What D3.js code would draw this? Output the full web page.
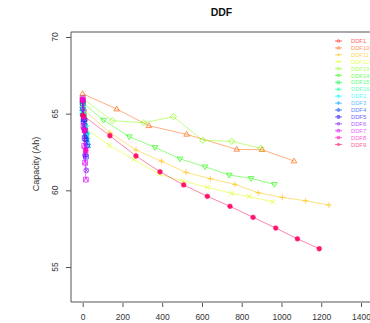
<!DOCTYPE html>
<html>
<head>
<meta charset="utf-8">
<script src="https://cdn.jsdelivr.net/npm/d3@7"></script>
<style>
  html, body { margin: 0; padding: 0; background: #fff; }
  svg { display: block; font-family: "Liberation Sans", Arial, sans-serif; }
</style>
</head>
<body>
<svg id="chart" width="370" height="323"></svg>
<script>
// Series in legend order
const seriesNames = ["DDF1","DDF10","DDF11","DDF12","DDF13","DDF14","DDF15","DDF16",
                     "DDF2","DDF3","DDF4","DDF5","DDF6","DDF7","DDF8","DDF9"];

// Cycle counts and capacity (Ah) per cell
const cyclesDDF1 = [0, 6, 12];
const capacityDDF1 = [65.8, 65.2, 64.6];
const cyclesDDF10 = [0, 171, 333, 523, 775, 902, 1063];
const capacityDDF10 = [66.3, 65.3, 64.21, 63.65, 62.67, 62.65, 61.91];
const cyclesDDF11 = [0, 137, 268, 396, 520, 642, 766, 883, 1004, 1120, 1239];
const capacityDDF11 = [65.3, 63.76, 62.63, 61.9, 61.17, 60.76, 60.39, 59.84, 59.54, 59.32, 59.04];
const cyclesDDF12 = [0, 134, 258, 384, 506, 627, 749, 838, 956];
const capacityDDF12 = [64.2, 62.93, 62.02, 61.06, 60.6, 60.2, 59.8, 59.6, 59.24];
const cyclesDDF13 = [0, 149, 308, 456, 604, 749, 897];
const capacityDDF13 = [66.0, 64.54, 64.41, 64.8, 63.26, 63.2, 62.74];
const cyclesDDF14 = [0, 105, 234, 364, 489, 615, 737, 847, 964];
const capacityDDF14 = [65.7, 64.58, 63.5, 62.8, 62.06, 61.54, 61.0, 60.78, 60.39];
const cyclesDDF15 = [0, 6, 12, 18];
const capacityDDF15 = [65.6, 64.9, 64.2, 63.6];
const cyclesDDF16 = [0, 6, 12, 18, 24];
const capacityDDF16 = [65.2, 64.7, 64.2, 63.8, 63.3];
const cyclesDDF2 = [0, 7, 14, 21];
const capacityDDF2 = [65.0, 64.6, 64.2, 63.7];
const cyclesDDF3 = [0, 8, 16, 24];
const capacityDDF3 = [64.9, 64.3, 63.6, 63.0];
const cyclesDDF4 = [0, 6, 12, 18, 24];
const capacityDDF4 = [65.3, 64.6, 63.9, 63.3, 62.9];
const cyclesDDF5 = [0, 5, 10, 16];
const capacityDDF5 = [65.7, 64.5, 63.4, 62.2];
const cyclesDDF6 = [0, 6, 12, 18];
const capacityDDF6 = [65.9, 64.0, 62.3, 61.3];
const cyclesDDF7 = [0, 4, 8, 12, 16];
const capacityDDF7 = [66.0, 64.2, 62.9, 61.8, 60.7];
const cyclesDDF8 = [0, 5, 10, 15];
const capacityDDF8 = [65.9, 64.8, 63.9, 62.6];
const cyclesDDF9 = [0, 137, 268, 389, 508, 627, 741, 857, 971, 1080, 1190];
const capacityDDF9 = [64.9, 63.56, 62.24, 61.21, 60.35, 59.61, 58.96, 58.24, 57.54, 56.84, 56.19];

const xTicks = [0, 200, 400, 600, 800, 1000, 1200, 1400];
const yTicks = [55, 60, 65, 70];

const cycleData = [cyclesDDF1, cyclesDDF10, cyclesDDF11, cyclesDDF12, cyclesDDF13, cyclesDDF14,
  cyclesDDF15, cyclesDDF16, cyclesDDF2, cyclesDDF3, cyclesDDF4, cyclesDDF5, cyclesDDF6,
  cyclesDDF7, cyclesDDF8, cyclesDDF9];
const capacityData = [capacityDDF1, capacityDDF10, capacityDDF11, capacityDDF12, capacityDDF13,
  capacityDDF14, capacityDDF15, capacityDDF16, capacityDDF2, capacityDDF3, capacityDDF4,
  capacityDDF5, capacityDDF6, capacityDDF7, capacityDDF8, capacityDDF9];

// rainbow palette, one hue per series
const n = seriesNames.length;
const colors = seriesNames.map((_, i) => d3.hsl(360 * i / n, 1, 0.5).formatHex());

const series = seriesNames.map((name, i) => ({
  name, color: colors[i], pch: i + 1,
  points: cycleData[i].map((c, j) => ({ x: c, y: capacityData[i][j] }))
}));

const svg = d3.select("#chart");
const plot = { left: 71, top: 32, bottom: 302, right: 372 };

const x = d3.scaleLinear().domain([0, 1400]).range([82.7, 361]);
const y = d3.scaleLinear().domain([55, 70]).range([267, 37]);

// frame
svg.append("path")
  .attr("d", `M${plot.right},${plot.top}H${plot.left}V${plot.bottom}H${plot.right}`)
  .attr("fill", "none").attr("stroke", "#555").attr("stroke-width", 1);

// title
svg.append("text").attr("x", 221.5).attr("y", 16).attr("text-anchor", "middle")
  .attr("font-size", 10.5).attr("font-weight", "bold").attr("fill", "#111").text("DDF");

// y axis label
svg.append("text").attr("transform", "translate(39,164) rotate(-90)")
  .attr("text-anchor", "middle").attr("font-size", 9).attr("fill", "#333").text("Capacity (Ah)");

// x axis
const xAxis = svg.append("g").attr("transform", `translate(0,${plot.bottom + 1})`)
  .call(d3.axisBottom(x).tickValues(xTicks).tickFormat(d3.format("d")).tickSize(4).tickPadding(7));
xAxis.select(".domain").remove();
xAxis.selectAll("line").attr("stroke", "#555");
xAxis.selectAll("text").attr("font-size", 8.5).attr("fill", "#333").attr("font-family", "Liberation Sans, Arial, sans-serif");

// y axis with rotated labels
const yAxis = svg.append("g").attr("transform", `translate(${plot.left},0)`)
  .call(d3.axisLeft(y).tickValues(yTicks).tickSize(5).tickFormat(""));
yAxis.select(".domain").remove();
yAxis.selectAll("line").attr("stroke", "#555");
svg.append("g").selectAll("text").data(yTicks).join("text")
  .attr("transform", d => `translate(58,${y(d)}) rotate(-90)`)
  .attr("text-anchor", "middle").attr("font-size", 8.5).attr("fill", "#333")
  .text(d => d);

// plotting symbols
function symbolPath(pch, r) {
  const p = d3.path();
  const s = r;
  switch (pch) {
    case 1: case 16: p.arc(0, 0, r, 0, 2 * Math.PI); break;
    case 2: { const h = r * 1.25; p.moveTo(0, -h); p.lineTo(h * 0.95, h * 0.6); p.lineTo(-h * 0.95, h * 0.6); p.closePath(); break; }
    case 3: p.moveTo(-r * 1.2, 0); p.lineTo(r * 1.2, 0); p.moveTo(0, -r * 1.2); p.lineTo(0, r * 1.2); break;
    case 4: p.moveTo(-s, -s); p.lineTo(s, s); p.moveTo(-s, s); p.lineTo(s, -s); break;
    case 5: p.moveTo(0, -r * 1.3); p.lineTo(r * 1.3, 0); p.lineTo(0, r * 1.3); p.lineTo(-r * 1.3, 0); p.closePath(); break;
    case 6: { const h = r * 1.25; p.moveTo(0, h); p.lineTo(h * 0.95, -h * 0.6); p.lineTo(-h * 0.95, -h * 0.6); p.closePath(); break; }
    case 7: p.rect(-s, -s, 2 * s, 2 * s); p.moveTo(-s, -s); p.lineTo(s, s); p.moveTo(-s, s); p.lineTo(s, -s); break;
    case 8: p.moveTo(-r * 1.2, 0); p.lineTo(r * 1.2, 0); p.moveTo(0, -r * 1.2); p.lineTo(0, r * 1.2);
            p.moveTo(-s, -s); p.lineTo(s, s); p.moveTo(-s, s); p.lineTo(s, -s); break;
    case 9: p.moveTo(0, -r * 1.3); p.lineTo(r * 1.3, 0); p.lineTo(0, r * 1.3); p.lineTo(-r * 1.3, 0); p.closePath();
            p.moveTo(-r * 1.3, 0); p.lineTo(r * 1.3, 0); p.moveTo(0, -r * 1.3); p.lineTo(0, r * 1.3); break;
    case 10: p.moveTo(r, 0); p.arc(0, 0, r, 0, 2 * Math.PI); p.moveTo(-r, 0); p.lineTo(r, 0); p.moveTo(0, -r); p.lineTo(0, r); break;
    case 11: { const h = r * 1.2; p.moveTo(0, -h); p.lineTo(h, h * 0.6); p.lineTo(-h, h * 0.6); p.closePath();
            p.moveTo(0, h); p.lineTo(h, -h * 0.6); p.lineTo(-h, -h * 0.6); p.closePath(); break; }
    case 12: p.rect(-s, -s, 2 * s, 2 * s); p.moveTo(-s, 0); p.lineTo(s, 0); p.moveTo(0, -s); p.lineTo(0, s); break;
    case 13: p.moveTo(r, 0); p.arc(0, 0, r, 0, 2 * Math.PI); p.moveTo(-s * 0.7, -s * 0.7); p.lineTo(s * 0.7, s * 0.7);
            p.moveTo(-s * 0.7, s * 0.7); p.lineTo(s * 0.7, -s * 0.7); break;
    case 14: p.rect(-s, -s, 2 * s, 2 * s); p.moveTo(-s, s); p.lineTo(0, -s); p.lineTo(s, s); break;
    case 15: p.rect(-s, -s, 2 * s, 2 * s); break;
  }
  return p.toString();
}

function drawSymbol(g, pch, color, r) {
  const filled = pch === 15 || pch === 16;
  g.append("path").attr("d", symbolPath(pch, r))
    .attr("fill", filled ? color : "none")
    .attr("stroke", color).attr("stroke-width", filled ? 0.5 : 0.9);
}

const line = d3.line().x(d => x(d.x)).y(d => y(d.y));
const lineAlpha = 0.55;
const markAlpha = 0.75;

const seriesG = svg.append("g").selectAll("g").data(series).join("g");

seriesG.append("path").attr("d", d => line(d.points))
  .attr("fill", "none").attr("stroke", d => d.color).attr("stroke-width", 0.9)
  .attr("opacity", lineAlpha);

seriesG.each(function (s) {
  const g = d3.select(this).append("g").attr("opacity", s.pch >= 15 ? 0.9 : markAlpha);
  s.points.forEach(pt => {
    const pg = g.append("g").attr("transform", `translate(${x(pt.x)},${y(pt.y)})`);
    drawSymbol(pg, s.pch, s.color, 2.4);
  });
});

// legend
const legend = svg.append("g").selectAll("g").data(series).join("g")
  .attr("transform", (d, i) => `translate(335,${41 + i * 6.9})`)
  .attr("opacity", 0.65);
legend.append("line").attr("x1", 0).attr("x2", 7).attr("stroke", d => d.color).attr("stroke-width", 0.9);
legend.each(function (s) {
  const g = d3.select(this).append("g").attr("transform", "translate(3.5,0)");
  drawSymbol(g, s.pch, s.color, 1.3);
});
legend.append("text").attr("x", 16).attr("y", 2).attr("font-size", 5.8)
  .attr("fill", d => d.color).text(d => d.name);
</script>
</body>
</html>
